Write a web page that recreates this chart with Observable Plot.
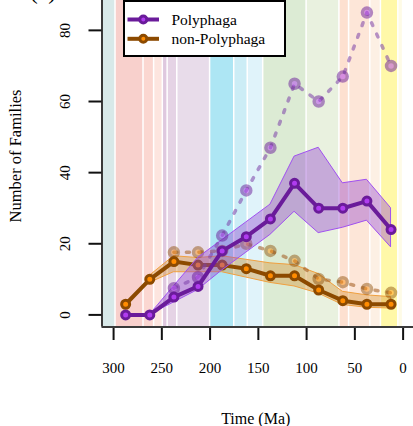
<!DOCTYPE html>
<html>
<head>
<meta charset="utf-8">
<script src="https://cdn.jsdelivr.net/npm/d3@7"></script>
<script src="https://cdn.jsdelivr.net/npm/@observablehq/plot@0.6"></script>
<style>
  html, body { margin: 0; padding: 0; background: #fff; }
  #chart { position: relative; width: 413px; height: 426px; overflow: hidden; }
  #legend { position: absolute; left: 123px; top: 0px; width: 163px; height: 57px;
            border: 2px solid #000; box-sizing: border-box; background: #fff; }
</style>
</head>
<body>
<div id="chart"></div>
<script>
// ---- data ----
const times = [287.5, 262.5, 237.5, 212.5, 187.5, 162.5, 137.5, 112.5, 87.5, 62.5, 37.5, 12.5];
const polyphaga      = [0, 0, 5, 8, 18, 22, 27, 37, 30, 30, 32, 24];
const polyphagaLow   = [null, 0, 3.5, 7, 12.5, 17.5, 22.5, 29, 23, 24.5, 26.5, 19];
const polyphagaHigh  = [null, 0, 8, 16, 21, 26, 31, 44.5, 47, 37, 38, 30];
const polyphagaRaw   = [null, null, 7.5, 10.6, 22.3, 35, 47, 65, 60, 67, 85, 70];
const nonPolyphaga     = [3, 10, 15, 14, 14, 13, 11, 11, 7, 4, 3, 3];
const nonPolyphagaLow  = [null, 9, 12, 12, 12, 10.5, 9, 8, 6, 2.8, 2, 1.8];
const nonPolyphagaHigh = [null, 11, 16.5, 16, 16.5, 15.5, 14.5, 14, 11.5, 6.5, 5.5, 5];
const nonPolyphagaRaw  = [null, null, 17.6, 17.6, 18, 20, 18, 15.2, 10.1, 9.2, 7.3, 6.2];

const periodStart  = [312, 298, 269, 258, 249, 244, 234, 200, 175, 161, 145, 100, 66, 56, 34, 23, 5];
const periodEnd    = [298, 269, 258, 249, 244, 234, 200, 175, 161, 145, 100, 66, 56, 34, 23, 5, 0];
const periodColors = ["#d8e9e9", "#f8d0cc", "#fbd7d1", "#fde5df", "#dfc8df", "#e5d3e5", "#e8dcea",
                      "#ade6f4", "#ccedf6", "#e0f3fa", "#dcebd4", "#e9f1df", "#fde0d0", "#fde6d8",
                      "#fdf0e4", "#fff8a8", "#fefbe6"];

const xTicks = [300, 250, 200, 150, 100, 50, 0];
const yTicks = [0, 20, 40, 60, 80];
const xDomain = [312, -12];
const yDomain = [-3.4, 88.4];
const legendLabels = ["Polyphaga", "non-Polyphaga"];

// ---- styles ----
const purpleLine = "#6a1b9a", purpleFill = "#b03cf0";
const orangeLine = "#8c4a00", orangeFill = "#ff8c00";
const font = "'Liberation Serif', 'DejaVu Serif', serif";

const rows = times.map((t, i) => ({
  t,
  poly: polyphaga[i], polyLo: polyphagaLow[i], polyHi: polyphagaHigh[i], polyRaw: polyphagaRaw[i],
  non: nonPolyphaga[i], nonLo: nonPolyphagaLow[i], nonHi: nonPolyphagaHigh[i], nonRaw: nonPolyphagaRaw[i]
}));
const periods = periodStart.map((s, i) => ({start: s, end: periodEnd[i], color: periodColors[i]}));

const W = 413, H = 426;
const svg = Plot.plot({
  width: W, height: H,
  marginLeft: 101.5, marginRight: 0, marginTop: 0, marginBottom: 99.5,
  style: {fontFamily: font, fontSize: "15px", color: "#000", background: "#fff", overflow: "visible"},
  x: {domain: xDomain, range: [101.5, 414.2]},
  y: {domain: yDomain, range: [326.5, 0]},
  color: {type: "identity"},
  marks: [
    Plot.rect(periods, {x1: "start", x2: "end", y1: yDomain[0], y2: yDomain[1], fill: "color",
                        insetLeft: 0.75, insetRight: 0.75}),
    // non-Polyphaga
    Plot.areaY(rows, {x: "t", y1: "nonLo", y2: "nonHi", fill: "#d89030", fillOpacity: 0.4,
                      stroke: "#f0a040", strokeWidth: 1}),
    Plot.line(rows, {x: "t", y: "nonRaw", stroke: "#a0581a", strokeOpacity: 0.55, strokeWidth: 3.5,
                     strokeDasharray: "3,9.5", strokeLinecap: "round"}),
    Plot.dot(rows, {x: "t", y: "nonRaw", r: 4.5, fill: orangeFill, stroke: orangeLine, strokeWidth: 3.5, opacity: 0.45}),
    Plot.line(rows, {x: "t", y: "non", stroke: orangeLine, strokeWidth: 4}),
    Plot.dot(rows, {x: "t", y: "non", r: 4, fill: orangeFill, stroke: orangeLine, strokeWidth: 3}),
    // Polyphaga
    Plot.areaY(rows, {x: "t", y1: "polyLo", y2: "polyHi", fill: "#9040d0", fillOpacity: 0.4,
                      stroke: "#a050f0", strokeWidth: 1}),
    Plot.line(rows, {x: "t", y: "polyRaw", stroke: "#7b3fa8", strokeOpacity: 0.55, strokeWidth: 3.5,
                     strokeDasharray: "3,9.5", strokeLinecap: "round"}),
    Plot.dot(rows, {x: "t", y: "polyRaw", r: 4.5, fill: purpleFill, stroke: purpleLine, strokeWidth: 3.5, opacity: 0.5}),
    Plot.line(rows, {x: "t", y: "poly", stroke: purpleLine, strokeWidth: 4}),
    Plot.dot(rows, {x: "t", y: "poly", r: 4, fill: purpleFill, stroke: purpleLine, strokeWidth: 3}),
    // frame
    Plot.ruleX([xDomain[0]], {stroke: "#3a3a3a", strokeWidth: 2}),
    Plot.ruleY([yDomain[0]], {stroke: "#3a3a3a", strokeWidth: 2}),
    // axes
    Plot.axisX({ticks: xTicks, tickSize: 12, tickPadding: 22, dy: 1.5, fontSize: 15,
                strokeWidth: 2, stroke: "#111", label: null}),
    Plot.axisY({ticks: yTicks, tickSize: 13, tickFormat: () => "", strokeWidth: 2, stroke: "#111", label: null}),
    Plot.text(yTicks, {y: d => d, text: d => String(d), frameAnchor: "left", dx: -36.5, rotate: -90,
                       fontSize: 15, textAnchor: "middle", lineAnchor: "middle"}),
    Plot.text(["Number of Families"], {y: [44.7], frameAnchor: "left", dx: -86.5, rotate: -90,
                       fontSize: 16.5, textAnchor: "middle", lineAnchor: "middle"}),
    Plot.text(["Time (Ma)"], {frameAnchor: "bottom", dx: -2, dy: 91.5, fontSize: 16,
                       textAnchor: "middle", lineAnchor: "middle"}),
    Plot.text(["(a)"], {frameAnchor: "top-left", dx: -59, dy: -8.7, fontSize: 24,
                       textAnchor: "middle", lineAnchor: "middle"})
  ]
});

const chart = document.getElementById("chart");
chart.appendChild(svg);

// legend
const legend = d3.select(chart).append("div").attr("id", "legend");
const lsvg = legend.append("svg").attr("width", 159).attr("height", 53)
  .style("display", "block").style("font-family", font).style("font-size", "15.5px");
const lc = [[purpleLine, purpleFill], [orangeLine, orangeFill]];
legendLabels.forEach((lab, i) => {
  const cy = 17.5 + i * 19.3;
  lsvg.append("line").attr("x1", 2.5).attr("x2", 34).attr("y1", cy).attr("y2", cy)
    .attr("stroke", lc[i][0]).attr("stroke-width", 4);
  lsvg.append("circle").attr("cx", 18.3).attr("cy", cy).attr("r", 3.5)
    .attr("fill", lc[i][1]).attr("stroke", lc[i][0]).attr("stroke-width", 3);
  lsvg.append("text").attr("x", 46.4).attr("y", cy + 5).text(lab);
});
</script>
</body>
</html>
